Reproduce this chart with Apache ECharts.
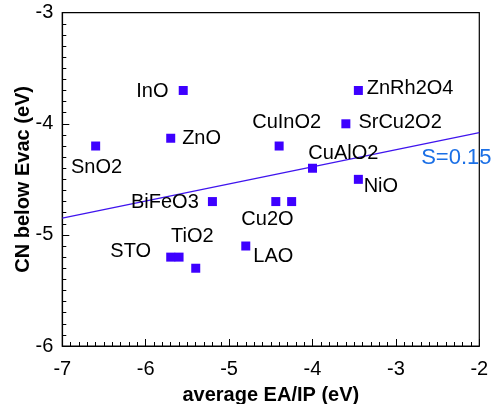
<!DOCTYPE html>
<html>
<head>
<meta charset="utf-8">
<script src="https://cdn.jsdelivr.net/npm/echarts@6/dist/echarts.min.js"></script>
<style>
  html, body { margin: 0; padding: 0; background: #fff; }
  #chart { width: 492px; height: 404px; }
</style>
</head>
<body>
<div id="chart"></div>
<script>
// Conduction-band minimum below vacuum vs. average EA/IP of each oxide
const pointX = [-6.6, -5.55, -5.7, -5.2, -5.7, -5.6, -5.4, -4.8, -4.44, -4.25, -4.4, -4.0, -3.6, -3.45, -3.45];
const pointY = [-4.2, -3.7, -4.13, -4.7, -5.2, -5.2, -5.3, -5.1, -4.7, -4.7, -4.2, -4.4, -4.0, -3.7, -4.5];

// Compound names and where their text sits (data coordinates)
const labelText = ['InO', 'ZnO', 'SnO2', 'BiFeO3', 'ZnRh2O4', 'SrCu2O2', 'CuInO2', 'CuAlO2', 'NiO', 'Cu2O', 'TiO2', 'STO', 'LAO'];
const labelX = [-5.92, -5.33, -6.59, -5.77, -2.83, -2.95, -4.31, -3.63, -3.18, -4.54, -5.44, -6.18, -4.47];
const labelY = [-3.71, -4.13, -4.39, -4.71, -3.68, -3.99, -3.99, -4.27, -4.56, -4.86, -5.01, -5.15, -5.19];

// Linear fit and its slope annotation
const fitX = [-7, -2];
const fitY = [-4.85, -4.08];
const slopeText = 'S=0.15';
const slopeAt = [-2.275, -4.308];

// Axis ranges and ticks
const xRange = [-7, -2];
const yRange = [-6, -3];
const tickStep = 1;

const FONT = 'Liberation Sans, Arial, Helvetica, sans-serif';

const chart = echarts.init(document.getElementById('chart'), null, { renderer: 'canvas' });

const axisCommon = {
  type: 'value',
  interval: tickStep,
  axisLine: { show: true, onZero: false, lineStyle: { color: '#000', width: 1.2 } },
  axisTick: { show: true, inside: true, length: 7, lineStyle: { color: '#000', width: 1 } },
  minorTick: { show: true, splitNumber: 10, length: 4, lineStyle: { color: '#000', width: 1 } },
  splitLine: { show: false },
  minorSplitLine: { show: false },
  axisLabel: { color: '#000', fontSize: 20, fontFamily: FONT },
  nameLocation: 'middle',
  nameTextStyle: { color: '#000', fontSize: 20, fontWeight: 'bold', fontFamily: FONT }
};

const textLabel = {
  show: true, position: 'inside', formatter: '{b}',
  color: '#000', fontSize: 20, fontFamily: FONT,
  textBorderWidth: 0, textBorderColor: 'transparent', opacity: 1
};

chart.setOption({
  animation: false,
  backgroundColor: '#fff',
  grid: {
    left: 62.3, right: 12.7, top: 12.7, bottom: 58,
    containLabel: false, outerBoundsMode: 'none',
    show: true, borderColor: '#000', borderWidth: 1.2, backgroundColor: 'transparent'
  },
  xAxis: Object.assign({}, axisCommon, {
    min: xRange[0], max: xRange[1],
    name: 'average EA/IP (eV)', nameGap: 39,
    axisLabel: Object.assign({}, axisCommon.axisLabel, { margin: 13 })
  }),
  yAxis: Object.assign({}, axisCommon, {
    min: yRange[0], max: yRange[1],
    name: 'CN below Evac (eV)', nameGap: 29, nameMoveOverlap: false,
    axisLabel: Object.assign({}, axisCommon.axisLabel, { margin: 9, padding: [3, 0, 0, 0] })
  }),
  series: [
    {
      name: 'fit',
      type: 'line',
      data: fitX.map((x, i) => [x, fitY[i]]),
      showSymbol: false,
      symbol: 'none',
      lineStyle: { color: '#3f14ee', width: 1.3 },
      z: 2
    },
    {
      name: 'oxides',
      type: 'scatter',
      data: pointX.map((x, i) => [x, pointY[i]]),
      symbol: 'rect',
      symbolSize: 9,
      itemStyle: { color: '#3d00ff', opacity: 1 },
      z: 3
    },
    {
      name: 'names',
      type: 'scatter',
      data: labelText.map((t, i) => ({ name: t, value: [labelX[i], labelY[i]] })),
      symbolSize: 1,
      itemStyle: { color: '#fff', opacity: 0 },
      label: textLabel,
      silent: true,
      z: 4
    },
    {
      name: 'slope',
      type: 'scatter',
      data: [{ name: slopeText, value: slopeAt }],
      symbolSize: 1,
      itemStyle: { color: '#fff', opacity: 0 },
      label: Object.assign({}, textLabel, { color: '#1a6fe6', fontSize: 22 }),
      silent: true,
      z: 4
    }
  ]
});
</script>
</body>
</html>
